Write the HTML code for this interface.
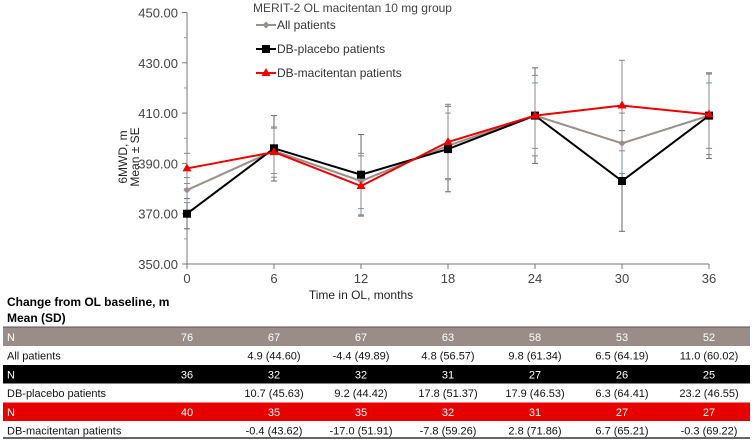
<!DOCTYPE html>
<html><head><meta charset="utf-8"><style>
body{margin:0;background:#fff;width:755px;height:441px;overflow:hidden;font-family:"Liberation Sans",sans-serif;}
svg{position:absolute;left:0;top:0}
</style></head><body>
<svg width="755" height="441">
<g id="axes"></g><g id="series"></g><g id="legend"></g><g id="table"></g>
</svg>
<script>
const months=[0,6,12,18,24,30,36];
const yTicks=[350,370,390,410,430,450];
const allMean=[379.4,395,383,397,409,398,409];
const allSE=[5,9,11,13,13,12,13];
const pboMean=[370,396,385.5,395.7,409,383,409];
const pboSE=[6,13,16,17,19,20,17];
const macMean=[388,394.5,381,398.5,409,413,409.5];
const macSE=[6,10,12,15,16,18,16];
const tableN_all=["76","67","67","63","58","53","52"];
const tableV_all=["","4.9 (44.60)","-4.4 (49.89)","4.8 (56.57)","9.8 (61.34)","6.5 (64.19)","11.0 (60.02)"];
const tableN_pbo=["36","32","32","31","27","26","25"];
const tableV_pbo=["","10.7 (45.63)","9.2 (44.42)","17.8 (51.37)","17.9 (46.53)","6.3 (64.41)","23.2 (46.55)"];
const tableN_mac=["40","35","35","32","31","27","27"];
const tableV_mac=["","-0.4 (43.62)","-17.0 (51.91)","-7.8 (59.26)","2.8 (71.86)","6.7 (65.21)","-0.3 (69.22)"];

const NS="http://www.w3.org/2000/svg";
const X=m=>187+m*(522/36);
const Y=v=>264-(v-350)*2.515;
function mk(p,tag,at,txt){const e=document.createElementNS(NS,tag);for(const k in at)e.setAttribute(k,at[k]);if(txt!==undefined)e.textContent=txt;p.appendChild(e);return e;}
const ax=document.getElementById('axes');
let e=mk(ax,'line',{x1:187,y1:Y(450),x2:187,y2:Y(350),stroke:'#777','stroke-width':1});

e=mk(ax,'line',{x1:187,y1:Y(350),x2:X(36),y2:Y(350),stroke:'#777','stroke-width':1});

yTicks.forEach(v=>{mk(ax,'line',{x1:182,y1:Y(v),x2:187,y2:Y(v),stroke:'#777'});
 e=mk(ax,'text',{x:178,y:Y(v)+5,'text-anchor':'end','font-size':13,fill:'#444'},v.toFixed(2));
 
 if(v<450) mk(ax,'line',{x1:184,y1:Y(v+10),x2:187,y2:Y(v+10),stroke:'#999'});});
months.forEach(m=>{mk(ax,'line',{x1:X(m),y1:Y(350),x2:X(m),y2:Y(350)+5,stroke:'#777'});
 e=mk(ax,'text',{x:X(m),y:283,'text-anchor':'middle','font-size':13,fill:'#444'},String(m));
 });
e=mk(ax,'text',{x:361,y:299,'text-anchor':'middle','font-size':12,fill:'#222'},'Time in OL, months');

const yt=mk(ax,'text',{transform:'translate(127,157) rotate(-90)','text-anchor':'middle','font-size':12,fill:'#222'});

mk(yt,'tspan',{x:0,dy:0},'6MWD, m');mk(yt,'tspan',{x:0,dy:12},'Mean ± SE');

const sg=document.getElementById('series');
function errs(mean,se,col,name){mean.forEach((v,i)=>{const x=X(months[i]);
 const g=mk(sg,'g',{stroke:col,'stroke-width':1});
 
 mk(g,'line',{x1:x,y1:Y(v+se[i]),x2:x,y2:Y(v-se[i])});
 mk(g,'line',{x1:x-3,y1:Y(v+se[i]),x2:x+3,y2:Y(v+se[i])});
 mk(g,'line',{x1:x-3,y1:Y(v-se[i]),x2:x+3,y2:Y(v-se[i])});});}
errs(pboMean,pboSE,'#666','placebo');errs(allMean,allSE,'#7a8fb0','all');errs(macMean,macSE,'#888','macitentan');
function line(mean,col,name,marker){
 const pts=mean.map((v,i)=>X(months[i])+','+Y(v)).join(' ');
 e=mk(sg,'polyline',{points:pts,fill:'none',stroke:col,'stroke-width':2});
 
 mean.forEach((v,i)=>{const x=X(months[i]),y=Y(v);let m;
  if(marker==='sq')m=mk(sg,'rect',{x:x-4,y:y-4,width:8,height:8,fill:col});
  else if(marker==='tri')m=mk(sg,'polygon',{points:`${x},${y-5} ${x-4.5},${y+3} ${x+4.5},${y+3}`,fill:col});
  else m=mk(sg,'polygon',{points:`${x},${y-3.5} ${x+3.5},${y} ${x},${y+3.5} ${x-3.5},${y}`,fill:col});
  });}
line(allMean,'#9a8f8a','all-patients','dia');
line(pboMean,'#000','db-placebo','sq');
line(macMean,'#e00','db-macitentan','tri');

const lg=document.getElementById('legend');
e=mk(lg,'text',{x:253,y:12,'font-size':12,fill:'#444'},'MERIT-2 OL macitentan 10 mg group');

[['All patients','#9a8f8a','dia',25],['DB-placebo patients','#000','sq',49],['DB-macitentan patients','#e00','tri',73]].forEach(([t,c,mkr,y])=>{
 const g=mk(lg,'g',{});
 mk(g,'line',{x1:256,y1:y,x2:276,y2:y,stroke:c,'stroke-width':2});
 if(mkr==='sq')mk(g,'rect',{x:262,y:y-4,width:8,height:8,fill:c});
 else if(mkr==='tri')mk(g,'polygon',{points:`266,${y-5} 261.5,${y+3} 270.5,${y+3}`,fill:c});
 else mk(g,'polygon',{points:`266,${y-3.5} 269.5,${y} 266,${y+3.5} 262.5,${y}`,fill:c});
 mk(g,'text',{x:277,y:y+4,'font-size':12,fill:'#333'},t);});

const tb=document.getElementById('table');
e=mk(tb,'text',{x:7,y:306,'font-size':12,'font-weight':'bold',fill:'#000'},'Change from OL baseline, m');

e=mk(tb,'text',{x:7,y:322,'font-size':12,'font-weight':'bold',fill:'#000'},'Mean (SD)');

mk(tb,'line',{x1:3,y1:327,x2:750,y2:327,stroke:'#555','stroke-width':1});
const groups=[['All patients','#9a8d88',tableN_all,tableV_all,'all'],['DB-placebo patients','#000',tableN_pbo,tableV_pbo,'placebo'],['DB-macitentan patients','#e60000',tableN_mac,tableV_mac,'macitentan']];
groups.forEach(([lab,col,ns,vs,key],gi)=>{
 const y0=327.5+gi*37.5;
 const r=mk(tb,'rect',{x:3,y:y0,width:747,height:18.5,fill:col});
 
 mk(tb,'text',{x:7,y:y0+13.5,'font-size':11,fill:'#fff'},'N');
 ns.forEach((n,i)=>{mk(tb,'text',{x:X(months[i]),y:y0+13.5,'font-size':11,fill:'#fff','text-anchor':'middle'},n);});
 const t=mk(tb,'text',{x:7,y:y0+32,'font-size':11,fill:'#111'},lab);
 
 vs.forEach((v,i)=>{if(v)mk(tb,'text',{x:X(months[i]),y:y0+32,'font-size':11,fill:'#111','text-anchor':'middle'},v);});
});
mk(tb,'line',{x1:3,y1:438,x2:750,y2:438,stroke:'#333','stroke-width':1.5});
</script>
</body></html>
